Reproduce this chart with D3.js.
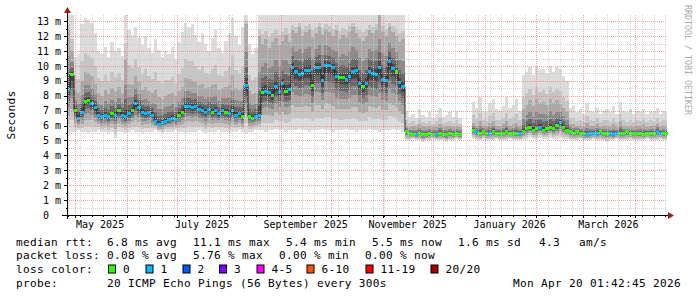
<!DOCTYPE html>
<html>
<head>
<meta charset="utf-8">
<script src="https://cdn.jsdelivr.net/npm/d3@7"></script>
<style>
  body { margin: 0; background: #fff; }
  text { font-family: "DejaVu Sans Mono", monospace; white-space: pre; }
</style>
</head>
<body>
<svg id="chart" width="697" height="297"></svg>
<script>
// time frame of the graph (UTC), 2-day buckets
const startTime = new Date(Date.UTC(2025, 3, 26, 5, 0, 0));
const endTime = new Date(Date.UTC(2026, 3, 20, 1, 42, 45));
const bucketHours = 48;

// median rtt per bucket (ms), null = no data
const median = [
  8.4, 9.4, 7.0, 6.5, 6.9, 7.6, 7.7, 7.5, 7.2, 6.7,
  6.6, 6.7, 6.6, 6.8, 6.7, 7.0, 6.7, 6.6, 6.8, 7.0,
  7.5, 7.2, 6.9, 6.8, 6.9, 6.7, 6.3, 6.1, 6.2, 6.3,
  6.4, 6.5, 6.4, 6.7, 6.9, 7.3, 7.3, 7.2, 7.3, 7.1,
  7.0, 6.9, 7.1, 6.9, 7.0, 6.8, 7.0, 6.9, 6.8, 7.0,
  6.7, 6.8, 6.6, 8.7, 6.6, 6.5, 6.6,
  6.7, 8.2, 8.3, 8.2, 8.0, 8.6, 8.3, 8.8, 8.3, 8.4,
  9.9, 9.6, 9.4, 9.5, 9.7, 9.7, 8.7, 9.9, 9.9, 9.0,
  10.0, 10.0, 9.9, 9.3, 9.2, 9.2, 9.1, 9.3, 9.6, 9.7,
  8.8, 8.6, 8.8, 9.6, 9.5, 9.4, 9.9, 9.1, 9.0, 10.3,
  9.8, 9.6, 8.9, 8.6,
  5.6, 5.5, 5.4, 5.4, 5.5, 5.4, 5.4, 5.5, 5.4, 5.4, 5.5, 5.4, 5.4, 5.5, 5.4, 5.5, 5.4,
  null, null, null,
  5.7, 5.6, 5.5, 5.6, 5.5, 5.5, 5.6, 5.5, 5.5, 5.5, 5.6, 5.5, 5.5, 5.5, 5.5,
  5.6, 5.8, 5.9, 5.7, 5.8, 5.9, 5.7, 5.8, 5.9, 5.8, 6.0, 6.2, 5.9, 5.7, 5.6,
  5.5, 5.6, 5.5, 5.5, 5.4, 5.5, 5.5, 5.5, 5.6, 5.5, 5.5, 5.5, 5.4, 5.5, 5.5,
  5.5, 5.6, 5.5, 5.5, 5.5, 5.5, 5.4, 5.5, 5.5, 5.5, 5.6, 5.5, 5.5, 5.5
];

// lost pings per bucket (index into lossColors)
const lossCount = [
  1, 0, 0, 1, 1, 0, 0, 1, 1, 1, 1, 1, 1, 0, 1, 0, 1, 1, 1, 0,
  1, 1, 1, 1, 1, 1, 1, 1, 1, 1, 1, 1, 1, 0, 0, 1, 1, 1, 1, 1,
  1, 1, 1, 0, 1, 1, 1, 0, 1, 1, 1, 1, 0, 1, 0, 0, 1,
  1, 0, 1, 1, 0, 1, 1, 1, 0, 1, 1, 1, 1, 1, 1, 1, 0, 1, 1, 1,
  1, 1, 1, 1, 0, 0, 1, 1, 1, 1, 1, 0, 1, 1, 1, 1, 1, 1, 1, 1,
  1, 0, 1, 1,
  0, 0, 0, 1, 0, 0, 0, 0, 0, 1, 0, 0, 0, 0, 0, 0, 0,
  0, 0, 0,
  0, 1, 0, 0, 0, 1, 0, 0, 0, 0, 0, 0, 0, 0, 1, 0, 0, 0, 0, 0,
  1, 0, 0, 0, 0, 0, 1, 0, 0, 0,
  0, 0, 0, 0, 1, 1, 1, 1, 0, 0, 0, 1, 1, 1, 0, 0, 0, 0, 0, 0,
  0, 0, 0, 0, 0, 1, 1, 0, 0
];

// smoke: lowest ping, upper body and highest ping per bucket (ms)
const smokeLow = [
  5.5, 5.6, 5.6, 5.7, 5.6, 5.6, 5.5, 5.6, 5.6, 5.7,
  5.6, 5.6, 5.5, 5.6, 5.2, 5.6, 5.6, 5.5, 5.6, 5.7,
  5.6, 5.6, 5.5, 5.6, 5.6, 5.6, 5.7, 5.6, 5.5, 5.6,
  5.6, 5.6, 5.7, 5.6, 5.6, 5.5, 5.6, 5.6, 5.6, 5.7,
  5.6, 5.5, 5.6, 5.6, 5.6, 5.7, 5.6, 5.6, 5.5, 5.6,
  5.6, 5.7, 5.6, 5.5, 5.6, 5.6, 5.7,
  5.7, 5.7, 5.6, 5.7, 5.7, 5.8, 5.7, 5.7, 5.6, 5.7,
  5.7, 5.7, 5.8, 5.7, 5.7, 5.6, 5.7, 5.7, 5.7, 5.8,
  5.7, 5.7, 5.6, 5.7, 5.7, 5.7, 5.8, 5.7, 5.7, 5.6,
  5.7, 5.7, 5.7, 5.8, 5.7, 5.7, 5.6, 5.7, 5.7, 5.7,
  5.8, 5.7, 5.7, 5.6,
  5.0, 5.0, 5.1, 5.0, 5.0, 4.9, 5.0, 5.0, 5.1, 5.0, 5.0, 5.0, 4.9, 5.0, 5.0, 5.1, 5.0,
  null, null, null,
  5.1, 5.0, 5.0, 5.1, 5.0, 5.0, 5.0, 5.1, 5.0, 5.0, 5.0, 5.1, 5.0, 5.0, 5.0,
  5.1, 5.1, 5.2, 5.1, 5.1, 5.2, 5.1, 5.1, 5.2, 5.1, 5.1, 5.2, 5.1, 5.1, 5.0,
  5.0, 5.0, 5.1, 5.0, 5.0, 5.0, 5.1, 5.0, 5.0, 5.0, 4.9, 5.0, 5.0, 5.1, 5.0,
  5.0, 5.0, 5.1, 5.0, 5.0, 5.0, 5.0, 5.1, 5.0, 5.0, 5.0, 5.1, 5.0, 5.0
];
const smokeMid = [
  12.5, 11.0, 8.3, 8.2, 9.0, 9.6, 9.5, 9.3, 8.8, 8.2,
  8.0, 8.4, 8.1, 8.5, 8.3, 8.6, 8.2, 10.5, 8.8, 8.7,
  9.3, 8.9, 8.4, 8.6, 8.3, 8.2, 8.4, 7.9, 7.8, 8.0,
  8.1, 8.2, 8.0, 8.3, 8.6, 9.2, 9.1, 9.0, 8.9, 8.7,
  8.8, 8.5, 8.6, 8.7, 8.8, 8.4, 8.5, 8.6, 8.7, 9.4,
  8.5, 8.4, 8.5, 12.8, 8.3, 8.1, 8.2,
  12.0, 11.5, 11.8, 11.2, 11.6, 11.9, 11.4, 11.7, 12.1, 11.6,
  12.4, 12.2, 12.6, 12.0, 12.3, 12.5, 11.9, 12.2, 12.6, 12.1,
  12.5, 12.3, 12.0, 12.4, 11.8, 12.1, 11.9, 12.3, 12.6, 12.2,
  11.9, 11.7, 12.0, 12.4, 12.2, 12.5, 13.4, 12.3, 12.0, 12.6,
  12.3, 12.0, 11.6, 11.8,
  6.0, 5.9, 6.0, 5.9, 6.1, 6.0, 5.9, 6.0, 5.9, 6.0, 6.1, 5.9, 6.0, 6.0, 5.9, 6.0, 5.9,
  null, null, null,
  6.2, 6.0, 6.3, 6.0, 6.0, 6.2, 6.3, 6.0, 6.0, 6.1, 6.3, 6.0, 6.1, 6.2, 6.0,
  7.1, 7.4, 7.7, 7.3, 7.8, 7.5, 7.6, 7.4, 7.8, 7.5, 7.7, 7.5, 7.2, 6.9, 6.1,
  6.1, 6.0, 6.0, 5.9, 6.2, 6.0, 6.0, 6.1, 5.9, 6.0, 6.0, 5.9, 6.1, 5.9, 6.3,
  6.0, 5.9, 6.0, 5.9, 6.0, 6.0, 6.1, 5.9, 6.0, 6.0, 6.1, 5.9, 6.0, 6.0
];
const smokeHigh = [
  13.4, 13.4, 10.6, 10.8, 12.8, 13.2, 13.1, 12.9, 12.2, 11.0,
  10.8, 11.3, 10.6, 11.6, 11.0, 11.2, 10.7, 13.4, 12.4, 12.1,
  12.6, 11.9, 11.4, 12.0, 11.2, 10.9, 11.8, 11.1, 10.6, 11.0,
  10.8, 11.3, 10.5, 11.6, 12.3, 12.9, 12.6, 12.8, 12.1, 11.6,
  12.2, 11.5, 11.0, 11.9, 12.4, 11.2, 10.9, 11.7, 12.2, 13.2,
  12.0, 11.4, 12.6, 13.4, 11.5, 10.8, 11.2,
  13.4, 13.4, 13.4, 13.4, 13.4, 13.4, 13.4, 13.4, 13.4, 13.4,
  13.4, 13.4, 13.4, 13.4, 13.4, 13.4, 13.4, 13.4, 13.4, 13.4,
  13.4, 13.4, 13.4, 13.4, 13.4, 13.4, 13.4, 13.4, 13.4, 13.4,
  13.4, 13.4, 13.4, 13.4, 13.4, 13.4, 13.4, 13.4, 13.4, 13.4,
  13.4, 13.4, 13.4, 13.4,
  7.0, 6.6, 6.8, 6.5, 7.1, 6.7, 6.6, 6.9, 6.5, 6.8, 7.2, 6.6, 6.7, 6.9, 6.6, 7.0, 6.5,
  null, null, null,
  7.6, 7.2, 7.9, 7.0, 6.9, 7.5, 7.8, 7.1, 7.0, 7.3, 7.9, 7.2, 7.4, 7.8, 7.0,
  9.4, 9.6, 9.9, 9.4, 10.0, 9.7, 9.8, 9.5, 10.0, 9.6, 9.9, 9.8, 9.3, 9.0, 7.2,
  7.3, 6.9, 7.1, 6.8, 7.5, 7.0, 6.9, 7.2, 6.8, 7.0, 7.1, 6.9, 7.3, 6.8, 7.6,
  7.0, 6.9, 7.1, 6.8, 7.0, 6.9, 7.1, 6.8, 7.0, 6.9, 7.2, 6.8, 7.0, 6.9
];

// axis labels
const yTickValues = [0, 1, 2, 3, 4, 5, 6, 7, 8, 9, 10, 11, 12, 13];
const yTickLabels = ["0  ", "1 m", "2 m", "3 m", "4 m", "5 m", "6 m", "7 m", "8 m", "9 m", "10 m", "11 m", "12 m", "13 m"];
const monthLabelDates = [
  Date.UTC(2025, 4, 1), Date.UTC(2025, 6, 1), Date.UTC(2025, 8, 1),
  Date.UTC(2025, 10, 1), Date.UTC(2026, 0, 1), Date.UTC(2026, 2, 1)
];
const monthLabels = ["May 2025", "July 2025", "September 2025", "November 2025", "January 2026", "March 2026"];

// legend
const rttStats = ["median rtt:", "6.8 ms avg", "11.1 ms max", "5.4 ms min", "5.5 ms now", "1.6 ms sd", "4.3", "am/s"];
const lossStats = ["packet loss:", "0.08 % avg", "5.76 % max", "0.00 % min", "0.00 % now"];
const lossLabels = ["0", "1", "2", "3", "4-5", "6-10", "11-19", "20/20"];
const lossColors = ["#26ff00", "#00b8ff", "#0059ff", "#7e00ff", "#ff00ff", "#ff5500", "#ff0000", "#a00000"];
const probeLine = ["probe:", "20 ICMP Echo Pings (56 Bytes) every 300s"];
const stamp = "Mon Apr 20 01:42:45 2026";

// ---- layout
const plot = { left: 67, right: 667, top: 15, bottom: 215 };
const yMax = 13.42;
const legendFont = { size: "11.1px", spacing: "0.317px" };
const rttCols = [16, 107, 193, 286, 372, 458, 539, 579];
const lossCols = [16, 107, 193, 279, 365];
const swatchCols = [108, 145.5, 182.5, 219, 256.5, 306.5, 365.5, 430.5];
const lineY = [245.5, 259, 273, 287];

const svg = d3.select("#chart");
svg.append("rect").attr("width", 697).attr("height", 297).attr("fill", "#fff");

const x = d3.scaleUtc().domain([startTime, endTime]).range([plot.left, plot.right]);
const y = d3.scaleLinear().domain([0, yMax]).range([plot.bottom, plot.top]);

const buckets = median.map((m, i) => {
  const t0 = d3.utcHour.offset(startTime, i * bucketHours);
  const t1 = d3.utcHour.offset(startTime, (i + 1) * bucketHours);
  return {
    i, med: m, loss: lossCount[i],
    lo: smokeLow[i], mid: smokeMid[i], hi: smokeHigh[i],
    x0: Math.round(x(t0)), x1: Math.min(plot.right, Math.round(x(t1)))
  };
}).filter(d => d.med !== null);

// smoke layers, lightest (outer pings) to darkest (around the median)
const lerp = (a, b, t) => d3.interpolateNumber(a, b)(t);
const layers = [
  { fill: "#dcdcdc", bot: d => d.lo, top: d => d.hi },
  { fill: "#c5c5c5", bot: d => lerp(d.lo, d.med, 0.2), top: d => lerp(d.mid, d.hi, 0.35) },
  { fill: "#a9a9a9", bot: d => lerp(d.lo, d.med, 0.4), top: d => d.mid },
  { fill: "#8a8a8a", bot: d => lerp(d.lo, d.med, 0.6), top: d => lerp(d.med, d.mid, 0.55) },
  { fill: "#686868", bot: d => lerp(d.lo, d.med, 0.75), top: d => lerp(d.med, d.mid, 0.3) },
  { fill: "#474747", bot: d => lerp(d.lo, d.med, 0.88), top: d => lerp(d.med, d.mid, 0.12) }
];

const smoke = svg.append("g").attr("shape-rendering", "crispEdges");
layers.forEach(layer => {
  smoke.append("g").attr("fill", layer.fill)
    .selectAll("rect").data(buckets).join("rect")
    .attr("x", d => d.x0)
    .attr("width", d => Math.max(1, d.x1 - d.x0))
    .attr("y", d => y(Math.min(yMax, layer.top(d))))
    .attr("height", d => y(layer.bot(d)) - y(Math.min(yMax, layer.top(d))));
});

// thin median line
const medLine = [];
median.forEach((m, i) => {
  const b = buckets.find(d => d.i === i);
  if (!b) { medLine.push(null); return; }
  medLine.push([b.x0, y(m)], [b.x1, y(m)]);
});
svg.append("path")
  .attr("d", d3.line().defined(d => d !== null)(medLine))
  .attr("fill", "none").attr("stroke", "#202020").attr("stroke-width", 1);

// median coloured by loss
svg.append("g").attr("shape-rendering", "crispEdges")
  .selectAll("rect").data(buckets).join("rect")
  .attr("x", d => d.x0)
  .attr("width", d => Math.max(2, d.x1 - d.x0))
  .attr("y", d => Math.round(y(d.med) - 1.5))
  .attr("height", 3)
  .attr("fill", d => lossColors[d.loss]);

// ---- grid (drawn above the data like rrdtool)
const grid = svg.append("g").attr("shape-rendering", "crispEdges").attr("stroke-dasharray", "1,1");
const minorY = d3.range(0.5, yMax, 1);
grid.selectAll(".gy").data(minorY).join("line")
  .attr("x1", plot.left).attr("x2", plot.right)
  .attr("y1", d => Math.round(y(d)) + 0.5).attr("y2", d => Math.round(y(d)) + 0.5)
  .attr("stroke", "#c8c8c8").attr("stroke-opacity", 0.8);
const weeks = d3.utcSunday.range(startTime, endTime).filter(d => d.getUTCDate() !== 1);
grid.selectAll(".gx").data(weeks).join("line")
  .attr("x1", d => Math.round(x(d)) + 0.5).attr("x2", d => Math.round(x(d)) + 0.5)
  .attr("y1", plot.top).attr("y2", plot.bottom)
  .attr("stroke", "#c8c8c8").attr("stroke-opacity", 0.8);
const months = d3.utcMonth.range(startTime, endTime);
grid.selectAll(".mx").data(months).join("line")
  .attr("x1", d => Math.round(x(d)) + 0.5).attr("x2", d => Math.round(x(d)) + 0.5)
  .attr("y1", plot.top).attr("y2", plot.bottom)
  .attr("stroke", "#f08080").attr("stroke-opacity", 0.75);
grid.selectAll(".my").data(yTickValues.filter(v => v > 0)).join("line")
  .attr("x1", plot.left).attr("x2", plot.right)
  .attr("y1", d => Math.round(y(d)) + 0.5).attr("y2", d => Math.round(y(d)) + 0.5)
  .attr("stroke", "#f08080").attr("stroke-opacity", 0.75);

// ---- axes
const axes = svg.append("g").attr("shape-rendering", "crispEdges").attr("stroke", "#000");
axes.append("line").attr("x1", 62).attr("x2", plot.right + 2)
  .attr("y1", plot.bottom + 0.5).attr("y2", plot.bottom + 0.5);
axes.append("line").attr("x1", plot.left + 0.5).attr("x2", plot.left + 0.5)
  .attr("y1", plot.bottom + 4).attr("y2", plot.top - 3);
axes.selectAll(".ty").data(yTickValues).join("line")
  .attr("x1", plot.left - 3).attr("x2", plot.left)
  .attr("y1", d => Math.round(y(d)) + 0.5).attr("y2", d => Math.round(y(d)) + 0.5);
axes.selectAll(".tym").data(minorY).join("line")
  .attr("x1", plot.left - 1).attr("x2", plot.left)
  .attr("y1", d => Math.round(y(d)) + 0.5).attr("y2", d => Math.round(y(d)) + 0.5);
axes.selectAll(".tx").data(months).join("line")
  .attr("x1", d => Math.round(x(d)) + 0.5).attr("x2", d => Math.round(x(d)) + 0.5)
  .attr("y1", plot.bottom).attr("y2", plot.bottom + 3);
axes.selectAll(".txm").data(weeks).join("line")
  .attr("x1", d => Math.round(x(d)) + 0.5).attr("x2", d => Math.round(x(d)) + 0.5)
  .attr("y1", plot.bottom).attr("y2", plot.bottom + 2);

// arrows
svg.append("path")
  .attr("d", d3.line()([[plot.right + 1, plot.bottom - 3], [plot.right + 7, plot.bottom + 0.5], [plot.right + 1, plot.bottom + 4]]) + "Z")
  .attr("fill", "#9a1c1c");
svg.append("path")
  .attr("d", d3.line()([[plot.left - 3, plot.top - 2], [plot.left + 0.5, plot.top - 8], [plot.left + 4, plot.top - 2]]) + "Z")
  .attr("fill", "#9a1c1c");

// tick labels
svg.append("g").attr("font-size", "10px").attr("fill", "#000").attr("text-anchor", "end")
  .selectAll("text").data(yTickValues).join("text")
  .attr("x", plot.left - 6).attr("y", d => y(d) + 3.6)
  .text((d, i) => yTickLabels[i]);
svg.append("g").attr("font-size", "10px").attr("fill", "#000").attr("text-anchor", "middle")
  .selectAll("text").data(monthLabelDates).join("text")
  .attr("x", d => x(d3.utcDay.offset(new Date(d), 15)))
  .attr("y", 228)
  .text((d, i) => monthLabels[i]);

// vertical unit label and watermark
svg.append("text")
  .attr("transform", `translate(14.5,${(plot.top + plot.bottom) / 2}) rotate(-90)`)
  .attr("text-anchor", "middle").attr("font-size", legendFont.size)
  .attr("letter-spacing", legendFont.spacing).text("Seconds");
svg.append("text")
  .attr("transform", "translate(684.5,5) rotate(90)")
  .attr("font-size", "8.3px").attr("fill", "#aaaaaa")
  .text("RRDTOOL / TOBI OETIKER");

// ---- legend
const legend = svg.append("g").attr("font-size", legendFont.size)
  .attr("letter-spacing", legendFont.spacing).attr("fill", "#000");
legend.selectAll(".rtt").data(rttStats).join("text")
  .attr("x", (d, i) => rttCols[i]).attr("y", lineY[0]).text(d => d);
legend.selectAll(".loss").data(lossStats).join("text")
  .attr("x", (d, i) => lossCols[i]).attr("y", lineY[1]).text(d => d);
legend.append("text").attr("x", 16).attr("y", lineY[2]).text("loss color:");
lossLabels.forEach((lab, i) => {
  legend.append("rect")
    .attr("x", swatchCols[i] + 0.5).attr("y", lineY[2] - 8)
    .attr("width", 7).attr("height", 8)
    .attr("fill", lossColors[i]).attr("stroke", "#000").attr("stroke-width", 1);
  legend.append("text").attr("x", swatchCols[i] + 15).attr("y", lineY[2]).text(lab);
});
legend.append("text").attr("x", 16).attr("y", lineY[3]).text(probeLine[0]);
legend.append("text").attr("x", 107).attr("y", lineY[3]).text(probeLine[1]);
legend.append("text").attr("x", 681).attr("y", lineY[3]).attr("text-anchor", "end").text(stamp);
</script>
</body>
</html>
